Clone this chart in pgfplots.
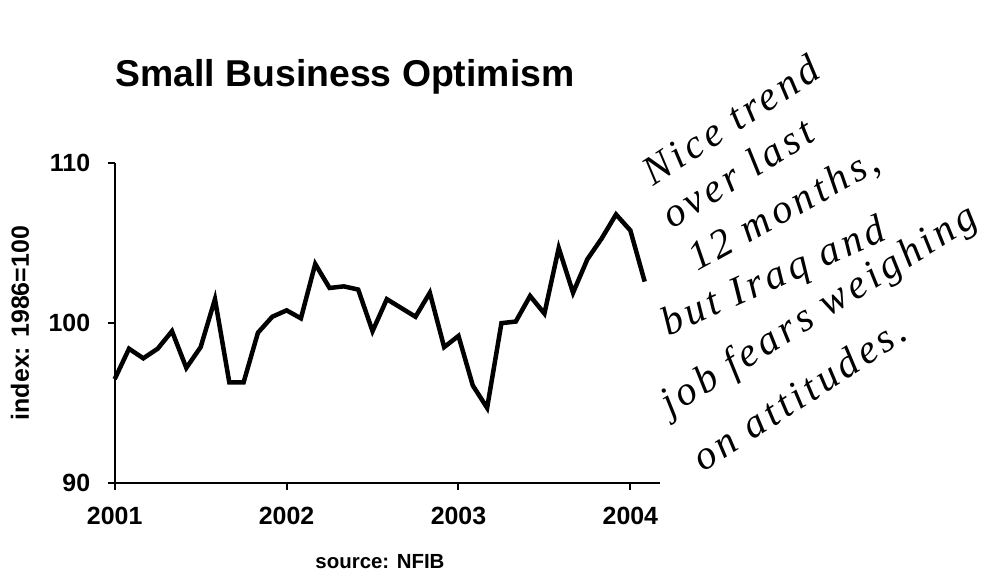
\documentclass[border=0pt]{standalone}
\usepackage{fontspec}
\setmainfont{Liberation Sans}
\newfontfamily\hand{Liberation Serif}[LetterSpace=10]
\usepackage{pgfplots}
\pgfplotsset{compat=1.18}
\begin{document}
\begin{tikzpicture}[x=1bp,y=1bp]
\useasboundingbox (0,0) rectangle (1008,576);
\begin{axis}[
  at={(114.7bp,93bp)}, anchor=south west,
  scale only axis, width=545.3bp, height=319.7bp,
  xmin=0, xmax=38.07, ymin=90, ymax=110,
  axis x line*=bottom, axis y line*=left,
  axis line style={line width=2bp, -},
  xtick={0,12,24,36}, xticklabels={2001,2002,2003,2004},
  ytick={90,100,110},
  tick align=outside, major tick length=7bp,
  tick style={line width=2bp, black},
  /pgf/number format/assume math mode=true,
  ticklabel style={font=\fontsize{25}{25}\selectfont\bfseries},
  xticklabel style={yshift=-14bp},
  yticklabel style={xshift=-14bp},
  title={Small Business Optimism},
  title style={at={(axis description cs:0.4223,1.2230)}, anchor=base, font=\fontsize{37.5}{37.5}\selectfont\bfseries, inner sep=0pt},
  ylabel={index: 1986=100},
  ylabel style={at={(axis description cs:-0.1737,0.5)}, anchor=center, font=\fontsize{25}{25}\selectfont\bfseries},
  xlabel={source: NFIB},
  xlabel style={at={(axis description cs:0.4865,-0.247)}, anchor=center, font=\fontsize{20.5}{20.5}\selectfont\bfseries},
  clip=false,
]
\addplot[black, line width=4.5bp, line join=miter] coordinates {
(0,96.5) (1,98.4) (2,97.8) (3,98.4) (4,99.5) (5,97.2) (6,98.5) (7,101.5)
(8,96.3) (9,96.3) (10,99.4) (11,100.4) (12,100.8) (13,100.3) (14,103.7) (15,102.2)
(16,102.3) (17,102.1) (18,99.5) (19,101.5) (20,100.95) (21,100.4) (22,101.9) (23,98.5)
(24,99.2) (25,96.1) (26,94.7) (27,100.0) (28,100.1) (29,101.7) (30,100.6) (31,104.7)
(32,101.9) (33,104.0) (34,105.3) (35,106.8) (36,105.8) (37,102.6)
};
\end{axis}
\begin{scope}[every node/.style={anchor=base west, inner sep=0pt, font=\hand\itshape\fontsize{41}{41}\selectfont}]
\node[rotate=33] at (653,389) {Nice trend};
\node[rotate=32] at (672,346) {over last};
\node[rotate=29] at (697,304) {12 months,};
\node[rotate=24] at (668,239) {but Iraq and};
\node[rotate=32] at (670,159) {job fears weighing};
\node[rotate=33] at (703,103) {on attitudes.};
\end{scope}
\end{tikzpicture}
\end{document}
